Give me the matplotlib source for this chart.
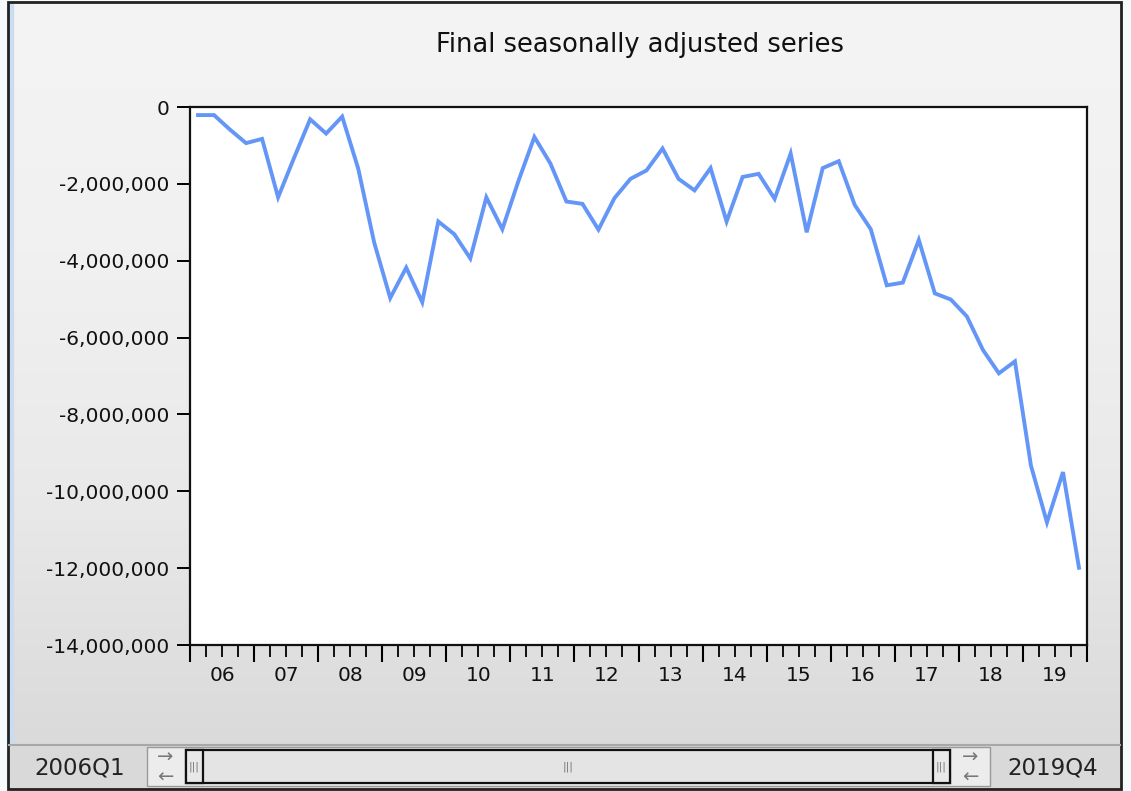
import matplotlib.pyplot as plt
import numpy as np
from matplotlib.patches import Rectangle
from matplotlib.colors import LinearSegmentedColormap
from matplotlib.ticker import FuncFormatter

# quarterly values 2006Q1 .. 2019Q4, in millions
values = [-0.21, -0.21, -0.59, -0.94, -0.83, -2.35, -1.32, -0.32,
          -0.69, -0.25, -1.60, -3.53, -4.97, -4.18, -5.08, -2.98,
          -3.31, -3.94, -2.35, -3.18, -1.93, -0.78, -1.47, -2.46,
          -2.52, -3.19, -2.37, -1.87, -1.65, -1.08, -1.87, -2.17,
          -1.59, -2.98, -1.82, -1.74, -2.39, -1.21, -3.26, -1.59,
          -1.41, -2.55, -3.18, -4.64, -4.57, -3.46, -4.85, -5.01,
          -5.45, -6.32, -6.93, -6.62, -9.33, -10.81, -9.50, -11.99]
years = ['06', '07', '08', '09', '10', '11', '12', '13',
         '14', '15', '16', '17', '18', '19']
yticks = [0, -2e6, -4e6, -6e6, -8e6, -10e6, -12e6, -14e6]
start_label = '2006Q1'
end_label = '2019Q4'
title = 'Final seasonally adjusted series'

plt.rcParams['font.family'] = ['DejaVu Sans']

W, H = 1131, 791
fig = plt.figure(figsize=(W / 100, H / 100), dpi=100)
fig.patch.set_facecolor('#f7fafd')

# window background, drawn in pixel coords
bg = fig.add_axes([0, 0, 1, 1])
bg.set_xlim(0, W)
bg.set_ylim(H, 0)
bg.axis('off')
grad = np.linspace(0, 1, 256).reshape(-1, 1)
cmap = LinearSegmentedColormap.from_list('g', ['#f4f4f4', '#f1f1f1', '#e9e9e9', '#dadada'])
bg.imshow(grad, extent=[9, 1120, 745, 3], cmap=cmap, aspect='auto')
bg.add_patch(Rectangle((9, 3), 4, 786, color='#c9dcf0'))
bg.add_patch(Rectangle((9, 745), 1111, 44, color='#d9d9d9'))
bg.plot([9, 1120], [745, 745], color='#a8a8a8', lw=1.5)
bg.add_patch(Rectangle((8, 2), 1113, 787, fill=False, ec='#222222', lw=2))

# scrollbar
bg.add_patch(Rectangle((147, 747), 843, 39, fc='#ececec', ec='#9a9a9a', lw=1))
bg.add_patch(Rectangle((186, 750), 764, 33, fc='#e4e4e4', ec='#111111', lw=1.6))
bg.add_patch(Rectangle((186, 750), 17, 33, fc='#e8e8e8', ec='#111111', lw=1.6))
bg.add_patch(Rectangle((933, 750), 17, 33, fc='#e8e8e8', ec='#111111', lw=1.6))
for xa in (165, 970):
    bg.text(xa, 757, '\u2192', ha='center', va='center', fontsize=14, color='#777777')
    bg.text(xa, 777, '\u2190', ha='center', va='center', fontsize=14, color='#777777')
for xg in (194, 941, 568):
    bg.text(xg, 767, '|||', ha='center', va='center', fontsize=8, color='#777777')
bg.text(80, 768, start_label, ha='center', va='center', fontsize=16.5, color='#222222')
bg.text(1053, 768, end_label, ha='center', va='center', fontsize=16.5, color='#222222')

fig.text(640 / W, 1 - 45 / H, title, ha='center', va='center', fontsize=18.5, color='#111111')

# main plot
ax = fig.add_axes([190 / W, 1 - 645 / H, (1087 - 190) / W, (645 - 107) / H])
ax.set_facecolor('white')
x = np.arange(len(values))
ax.plot(x, np.array(values) * 1e6, color='#6496f8', lw=2.8, solid_joinstyle='miter')
ax.set_xlim(-0.5, len(values) - 0.5)
ax.set_ylim(-14e6, 0)

for s in ax.spines.values():
    s.set_linewidth(1.6)
    s.set_color('#111111')

ax.set_yticks(yticks)
ax.yaxis.set_major_formatter(FuncFormatter(lambda v, p: f'{v:,.0f}'))
ax.tick_params(axis='y', direction='out', length=9.4, width=1.4, labelsize=14.5, pad=5.5,
               labelcolor='#111111')

ax.set_xticks(np.arange(-0.5, len(values), 4))
ax.set_xticks([b for b in np.arange(-0.5, len(values), 1) if (b + 0.5) % 4 != 0], minor=True)
ax.tick_params(axis='x', which='major', direction='out', length=12, width=1.5, labelbottom=False)
ax.tick_params(axis='x', which='minor', direction='out', length=8.5, width=1.3)

sec = ax.secondary_xaxis('bottom')
sec.set_xticks(np.arange(1.5, len(values), 4), labels=years)
sec.tick_params(length=0, pad=15, labelsize=14.5, labelcolor='#111111')
sec.spines['bottom'].set_visible(False)

fig.savefig('out.png', dpi=100)
